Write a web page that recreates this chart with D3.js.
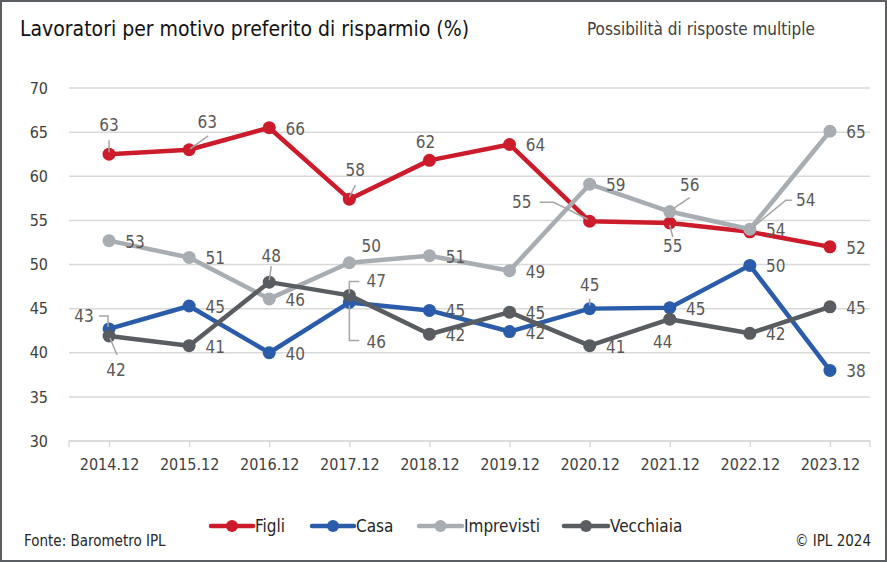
<!DOCTYPE html>
<html><head><meta charset="utf-8">
<script src="https://cdn.jsdelivr.net/npm/d3@7"></script>
<style>
body{margin:0;background:#fff;}
svg{display:block;font-family:"Liberation Sans Narrow","DejaVu Sans Condensed","Noto Sans",sans-serif;}
</style></head>
<body><svg id="c" width="887" height="562"></svg>
<script>
const categories = ["2014.12","2015.12","2016.12","2017.12","2018.12","2019.12","2020.12","2021.12","2022.12","2023.12"];
const figli      = [62.5, 63.0, 65.5, 57.4, 61.8, 63.6, 54.9, 54.7, 53.7, 52.0];
const casa       = [42.7, 45.3, 40.0, 45.7, 44.8, 42.4, 45.0, 45.1, 49.9, 38.0];
const imprevisti = [52.7, 50.8, 46.1, 50.2, 51.0, 49.3, 59.1, 56.0, 54.0, 65.1];
const vecchiaia  = [41.9, 40.8, 48.0, 46.5, 42.1, 44.6, 40.8, 43.8, 42.2, 45.2];
const figliLabels      = [63, 63, 66, 58, 62, 64, 55, 55, 54, 52];
const casaLabels       = [43, 45, 40, 46, 45, 42, 45, 45, 50, 38];
const imprevistiLabels = [53, 51, 46, 50, 51, 49, 59, 56, 54, 65];
const vecchiaiaLabels  = [42, 41, 48, 47, 42, 45, 41, 44, 42, 45];
const yTicks = [30, 35, 40, 45, 50, 55, 60, 65, 70];
const seriesNames = ["Figli","Casa","Imprevisti","Vecchiaia"];

// presentation: label offsets (dx, dy from point) and optional leader polylines (relative points)
const R = [26, 1];
const figliLabelPos = [
  {d:[0,-29], l:[[0,-2],[0,-14]]},
  {d:[18,-28], l:[[1,-1],[19,-14]]},
  {d:R},{d:[6,-29], l:[[0,-2],[6,-14]]},
  {d:[-4,-18]},{d:R},
  {d:[-68,-19], l:[[-2,-2],[-36,-19],[-50,-19]]},
  {d:[3,23], l:[[0,2],[3,14]]},
  {d:[26,-2]},{d:R}
];
const imprevistiLabelPos = [
  {d:R},{d:R},{d:R},{d:[22,-17]},{d:R},{d:R},{d:R},
  {d:[20,-27], l:[[2,-2],[20,-14]]},
  {d:[56,-29], l:[[2,-1],[36,-29],[42,-29]]},
  {d:R}
];
const casaLabelPos = [
  {d:[-25,-13], l:[[-1,-2],[-1,-13],[-10,-13]]},
  {d:R},{d:R},
  {d:[27,40], l:[[0,3],[0,38],[10,38]]},
  {d:R},{d:R},
  {d:[0,-24], l:[[0,-3],[0,-10]]},
  {d:R},{d:R},{d:R}
];
const vecchiaiaLabelPos = [
  {d:[7,34], l:[[1,2],[8,19]]},
  {d:R},
  {d:[2,-26], l:[[0,-2],[2,-16]]},
  {d:[27,-14], l:[[0,-2],[0,-14],[10,-14]]},
  {d:R},{d:R},{d:R},
  {d:[-7,23]},
  {d:R},{d:R}
];

const colors = ["#cc1c2b","#2a5caa","#a7adb3","#595d62"];
const seriesData = [figli, casa, imprevisti, vecchiaia];
const seriesLabels = [figliLabels, casaLabels, imprevistiLabels, vecchiaiaLabels];
const seriesLabelPos = [figliLabelPos, casaLabelPos, imprevistiLabelPos, vecchiaiaLabelPos];

const svg = d3.select("#c");
const W = 887, H = 562;
svg.append("rect").attr("x",1).attr("y",1).attr("width",W-2).attr("height",H-2)
  .attr("fill","#fff").attr("stroke","#5b5f64").attr("stroke-width",2);

const x0 = 69, x1 = 870;
const x = d3.scalePoint().domain(categories).range([x0, x1]).padding(0.5);
const y = d3.scaleLinear().domain([30,70]).range([441, 88]);

// grid
svg.append("g").selectAll("line").data(yTicks).join("line")
  .attr("x1",x0).attr("x2",x1).attr("y1",d=>y(d)).attr("y2",d=>y(d))
  .attr("stroke","#d9d9d9").attr("stroke-width",1.5);

// y axis labels
const yAxis = d3.axisLeft(y).tickValues(yTicks).tickSize(0).tickPadding(0);
const gy = svg.append("g").attr("transform","translate(48,0)").call(yAxis);
gy.select(".domain").remove();
gy.selectAll("text").attr("font-size",16).attr("fill","#404040")
  .attr("font-family","'Liberation Sans Narrow','DejaVu Sans Condensed',sans-serif");

// x axis
const xAxis = d3.axisBottom(x).tickSize(6).tickPadding(12);
const gx = svg.append("g").attr("transform",`translate(0,${y(30)})`).call(xAxis);
gx.select(".domain").attr("stroke","#d9d9d9").attr("stroke-width",1.5).attr("d",`M${x0},6V0H${x1}V6`);
gx.selectAll(".tick line").attr("stroke","#d9d9d9").attr("stroke-width",1.5);
gx.selectAll("text").attr("font-size",16).attr("fill","#404040")
  .attr("font-family","'Liberation Sans Narrow','DejaVu Sans Condensed',sans-serif");

// lines (draw order: Figli, Casa, Imprevisti, Vecchiaia)
const line = d3.line().x((d,i)=>x(categories[i])).y(d=>y(d));
[0,1,2,3].forEach(s=>{
  const g = svg.append("g");
  g.append("path").datum(seriesData[s]).attr("d",line).attr("fill","none")
    .attr("stroke",colors[s]).attr("stroke-width",4.5).attr("stroke-linejoin","round");
  g.selectAll("circle").data(seriesData[s]).join("circle")
    .attr("cx",(d,i)=>x(categories[i])).attr("cy",d=>y(d)).attr("r",6.5).attr("fill",colors[s]);
});

// labels
const lg = svg.append("g");
seriesData.forEach((vals,s)=>{
  vals.forEach((v,i)=>{
    const px = x(categories[i]), py = y(v);
    const p = seriesLabelPos[s][i];
    if(p.l){
      lg.append("polyline")
        .attr("points", p.l.map(q=>`${px+q[0]},${py+q[1]}`).join(" "))
        .attr("fill","none").attr("stroke","#a6a6a6").attr("stroke-width",1.5);
    }
    lg.append("text").attr("x",px+p.d[0]).attr("y",py+p.d[1])
      .attr("text-anchor","middle").attr("dominant-baseline","central")
      .attr("font-size",17).attr("fill","#595959")
      .text(seriesLabels[s][i]);
  });
});

// title
svg.append("text").attr("x",20).attr("y",36).attr("font-size",21).attr("fill","#111")
  .text("Lavoratori per motivo preferito di risparmio (%)");
svg.append("text").attr("x",587).attr("y",35).attr("font-size",17).attr("fill","#404040")
  .text("Possibilità di risposte multiple");

// legend
const legX = [211, 312, 419, 564];
const legW = [42, 42, 43, 44];
seriesNames.forEach((n,s)=>{
  const g = svg.append("g").attr("transform",`translate(${legX[s]},526)`);
  g.append("line").attr("x1",0).attr("x2",legW[s]).attr("stroke",colors[s]).attr("stroke-width",4.5).attr("stroke-linecap","round");
  g.append("circle").attr("cx",legW[s]/2).attr("r",6).attr("fill",colors[s]);
  g.append("text").attr("x",legW[s]+2).attr("y",0).attr("dominant-baseline","central")
    .attr("font-size",17).attr("fill","#262626").text(n);
});

// footer
svg.append("text").attr("x",24).attr("y",546).attr("font-size",15).attr("fill","#262626").text("Fonte: Barometro IPL");
svg.append("text").attr("x",871).attr("y",546).attr("text-anchor","end").attr("font-size",15).attr("fill","#262626").text("© IPL 2024");
</script></body></html>
